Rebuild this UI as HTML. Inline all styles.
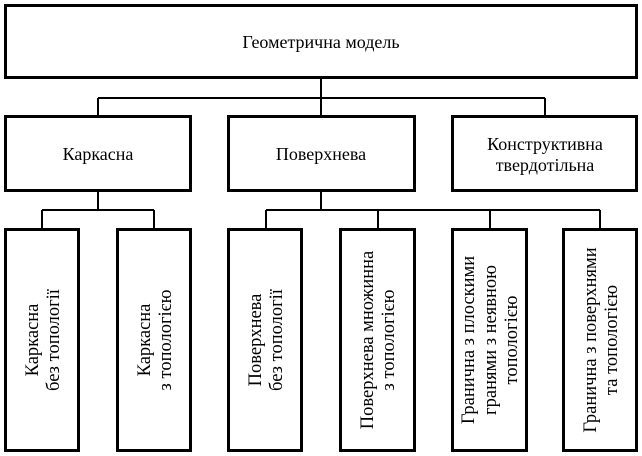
<!DOCTYPE html>
<html><head><meta charset="utf-8"><style>
html,body{margin:0;padding:0;background:#fff;}
svg{display:block;}
text{font-family:"Liberation Serif","DejaVu Serif",serif;font-size:18px;fill:#000;}
.v{font-size:18.5px;}
</style></head><body>
<svg width="642" height="456" viewBox="0 0 642 456" xmlns="http://www.w3.org/2000/svg">
<g fill="none" stroke="#000" stroke-width="3">
<rect x="5.5" y="5.5" width="631" height="72"/>
<rect x="5.5" y="116.5" width="185" height="74"/>
<rect x="228.5" y="116.5" width="186" height="74"/>
<rect x="452.5" y="116.5" width="184" height="74"/>
<rect x="5.5" y="229.5" width="73" height="221"/>
<rect x="117.5" y="229.5" width="73" height="221"/>
<rect x="228.5" y="229.5" width="73" height="221"/>
<rect x="340.5" y="229.5" width="74" height="221"/>
<rect x="452.5" y="229.5" width="74" height="221"/>
<rect x="563.5" y="229.5" width="73" height="221"/>
</g>
<g fill="none" stroke="#000" stroke-width="2">
<path d="M321 78V98M98 98H545M98 98V116M545 98V116M321 98V116"/>
<path d="M98 191V210M42 210H154M42 210V229M154 210V229"/>
<path d="M321 191V210M266 210H600M266 210V229M378 210V229M490 210V229M600 210V229"/>
</g>
<text x="321" y="48" text-anchor="middle">Геометрична модель</text>
<text x="98" y="160" text-anchor="middle">Каркасна</text>
<text x="321" y="160" text-anchor="middle">Поверхнева</text>
<text x="545" y="150" text-anchor="middle">Конструктивна</text>
<text x="545" y="171" text-anchor="middle">твердотільна</text>
<g text-anchor="middle" class="v">
<text class="v" transform="translate(38,340) rotate(-90)">Каркасна</text>
<text class="v" transform="translate(59,340) rotate(-90)">без топології</text>
<text class="v" transform="translate(150,340) rotate(-90)">Каркасна</text>
<text class="v" transform="translate(171,340) rotate(-90)">з топологією</text>
<text class="v" transform="translate(261,340) rotate(-90)">Поверхнева</text>
<text class="v" transform="translate(282,340) rotate(-90)">без топології</text>
<text class="v" transform="translate(373,340) rotate(-90)">Поверхнева множинна</text>
<text class="v" transform="translate(394,340) rotate(-90)">з топологією</text>
<text class="v" transform="translate(474,340) rotate(-90)">Гранична з плоскими</text>
<text class="v" transform="translate(496,340) rotate(-90)">гранями з неявною</text>
<text class="v" transform="translate(517,340) rotate(-90)">топологією</text>
<text class="v" transform="translate(596,340) rotate(-90)">Гранична з поверхнями</text>
<text class="v" transform="translate(617,340) rotate(-90)">та топологією</text>
</g>
</svg>
</body></html>
